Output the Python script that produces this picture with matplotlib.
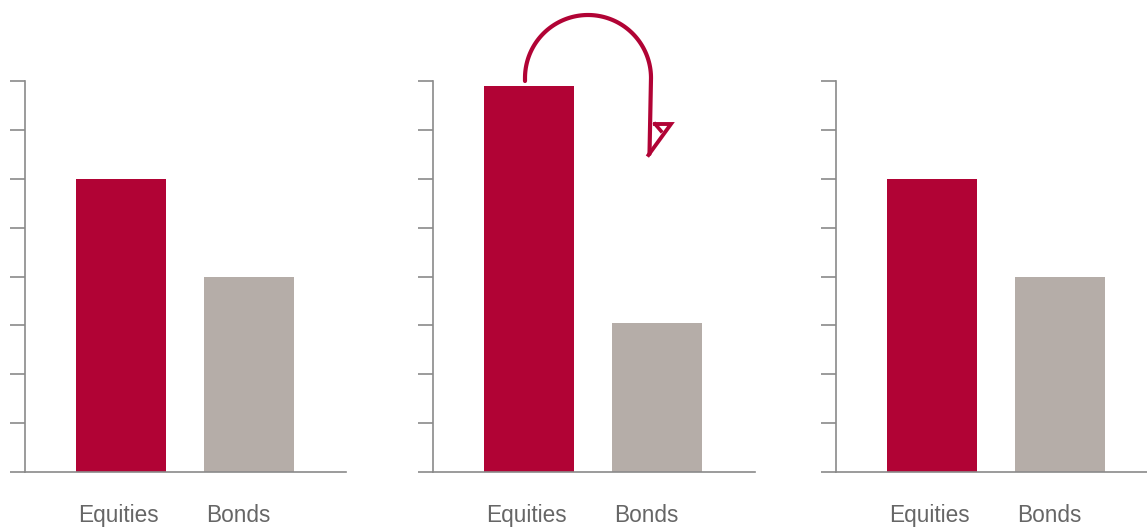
import numpy as np
import matplotlib
matplotlib.use("Agg")
import matplotlib.pyplot as plt
from matplotlib.transforms import IdentityTransform

# data
categories = ["Equities", "Bonds"]
before = [6.0, 4.0]
drift = [7.9, 3.05]
after = [6.0, 4.0]
panels = [before, drift, after]

red = "#B10335"
grey = "#B5ADA8"
axis_col = "#8A8A8A"
text_col = "#666666"

plt.rcParams["font.family"] = ["Liberation Sans", "DejaVu Sans"]

W, H = 1147, 527
fig = plt.figure(figsize=(W / 100, H / 100), dpi=100)

# axes boxes in pixels: left spine x, right end x
boxes = [(25, 346), (433, 755), (836, 1147)]
top_px, base_px = 81, 472
unit_px = 128.0
bar_w = 90 / unit_px

axes = []
for (x0, x1), vals in zip(boxes, panels):
    ax = fig.add_axes([x0 / W, (H - base_px) / H, (x1 - x0) / W, (base_px - top_px) / H])
    xs = np.arange(len(categories))
    ax.bar(xs, vals, width=bar_w, color=[red, grey], zorder=2)
    ax.set_xlim(-0.75, -0.75 + (x1 - x0) / unit_px)
    ax.set_ylim(0, 8)
    ax.set_yticks(np.arange(0, 9))
    ax.set_yticklabels([])
    ax.set_xticks([])
    for s in ["top", "right"]:
        ax.spines[s].set_visible(False)
    for s in ["left", "bottom"]:
        ax.spines[s].set_color(axis_col)
        ax.spines[s].set_linewidth(1.2)
    ax.tick_params(axis="y", length=11, width=1.2, color=axis_col)
    for x, name in zip(xs, categories):
        ax.text(x - bar_w / 2 + 0.015, -1.02, name, ha="left", va="baseline",
                fontsize=16.3, color=text_col, clip_on=False)
    axes.append(ax)

# curved arrow in panel 2: from top of equities bar over to the bonds bar
ax2 = axes[1]
fig.canvas.draw()
sx, _ = ax2.transData.transform((0, drift[0]))
ex, _ = ax2.transData.transform((1, drift[1]))
sx -= 4
ex -= 6
_, base_y = ax2.transData.transform((0, 0))
cy = base_y + 394  # arc centre height in display px
r = (ex - sx) / 2
cx = sx + r
t = np.linspace(np.pi, 0, 100)
arc_x = np.concatenate([[sx], cx + r * np.cos(t), [ex, ex - 1.5]])
arc_y = np.concatenate([[cy - 3], cy + r * np.sin(t), [cy, cy - 76]])
fig.add_artist(plt.Line2D(arc_x, arc_y, transform=IdentityTransform(), color=red,
                          lw=3.0, solid_capstyle="round", solid_joinstyle="round"))
tip = (ex - 2.5, cy - 77)
head_x = [ex + 4, ex + 20, tip[0]]
head_y = [cy - 46, cy - 46, tip[1]]
fig.add_artist(plt.Line2D(head_x, head_y, transform=IdentityTransform(), color=red,
                          lw=2.8, solid_joinstyle="miter"))
fig.add_artist(plt.Line2D([ex + 4, ex + 10], [cy - 46, cy - 53], transform=IdentityTransform(),
                          color=red, lw=2.6))

fig.savefig("out.png", dpi=100)
